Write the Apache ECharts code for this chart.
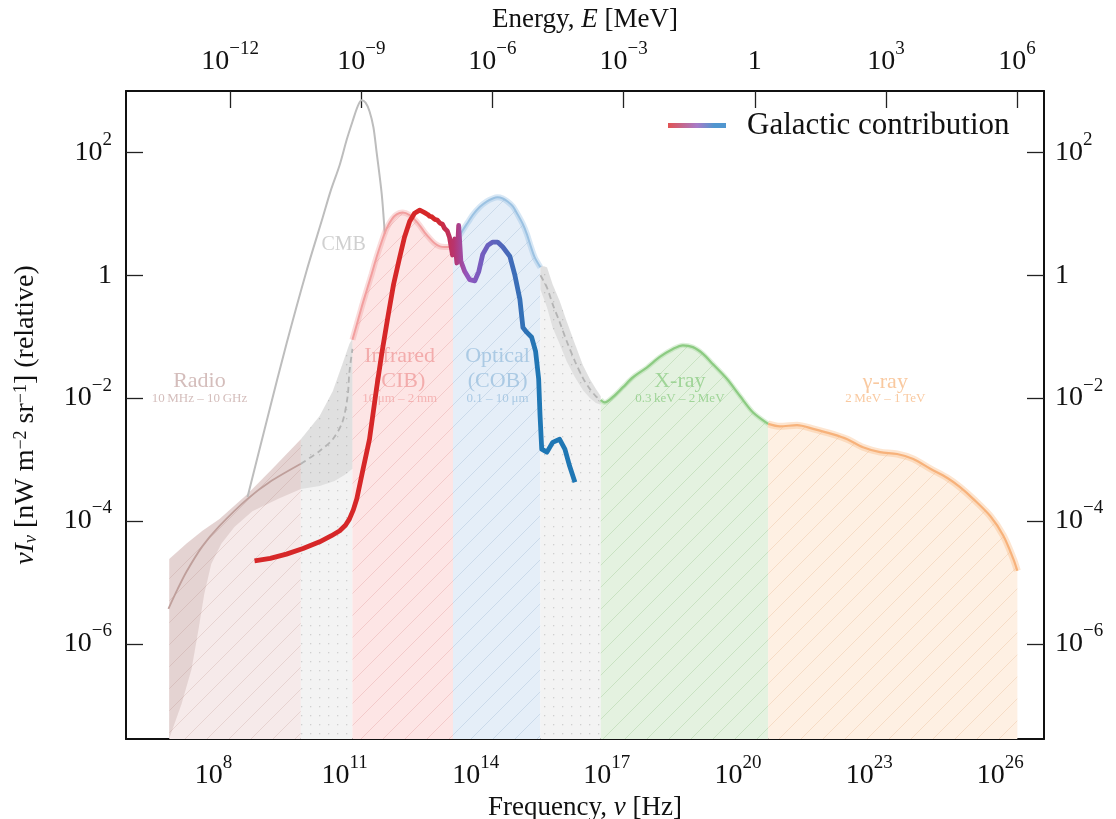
<!DOCTYPE html>
<html><head><meta charset="utf-8">
<script src="https://cdn.jsdelivr.net/npm/echarts@6/dist/echarts.min.js"></script>
<style>html,body{margin:0;padding:0;background:#fff}#c{width:1116px;height:819px}</style>
</head><body><div id="c"></div>
<script>
// ---------- data (log10 frequency [Hz], log10 nu*I_nu) ----------
const freqTicks = [8, 11, 14, 17, 20, 23, 26];
const energyTicks = [-12, -9, -6, -3, 0, 3, 6];
const intensityTicks = [2, 0, -2, -4, -6];

const cmbCurve = [[8.78,-3.61],[9.24,-2.31],[9.67,-1.12],[10.13,0.07],[10.50,0.94],[10.68,1.37],[10.89,1.80],[11.05,2.21],[11.18,2.50],[11.30,2.75],[11.39,2.85],[11.48,2.81],[11.57,2.67],[11.66,2.41],[11.73,2.02],[11.85,1.32],[11.92,0.67]];

const radioUpper = [[6.99,-4.62],[7.38,-4.37],[7.75,-4.16],[8.14,-3.97],[8.78,-3.56],[9.35,-3.15],[10.0,-2.67]];
const radioLower = [[6.985,-7.55],[7.27,-6.98],[7.50,-6.41],[7.66,-5.76],[7.79,-5.19],[7.95,-4.70],[8.18,-4.37],[8.48,-4.10],[8.89,-3.84],[9.51,-3.63],[10.0,-3.48]];
const radioMid = [[6.97,-5.43],[7.18,-5.11],[7.38,-4.83],[7.75,-4.41],[8.14,-4.08],[8.78,-3.64],[9.28,-3.37],[10.0,-3.07]];

const gap1Upper = [[10.0,-2.67],[10.43,-2.29],[10.73,-1.89],[10.95,-1.45],[11.11,-1.12],[11.18,-1.03]];
const gap1Lower = [[10.0,-3.48],[10.43,-3.43],[10.77,-3.35],[11.0,-3.25],[11.18,-3.15]];
const gap1Mid = [[10.0,-3.07],[10.43,-2.86],[10.73,-2.67],[10.95,-2.39],[11.07,-1.97],[11.11,-1.58],[11.18,-1.20]];

const irCurve = [[11.18,-1.05],[11.28,-0.80],[11.39,-0.52],[11.50,-0.26],[11.62,0.02],[11.73,0.29],[11.85,0.55],[11.96,0.76],[12.08,0.91],[12.19,0.99],[12.33,1.02],[12.49,0.98],[12.60,0.91],[12.72,0.81],[12.83,0.70],[12.95,0.60],[13.06,0.52],[13.18,0.47],[13.29,0.46],[13.40,0.46],[13.48,0.47]];

const optCurve = [[13.48,0.49],[13.59,0.60],[13.70,0.73],[13.82,0.86],[13.93,0.98],[14.09,1.11],[14.25,1.20],[14.39,1.25],[14.50,1.27],[14.62,1.25],[14.73,1.20],[14.85,1.12],[14.96,0.99],[15.08,0.83],[15.17,0.67],[15.26,0.47],[15.35,0.29],[15.48,0.13]];

const gap2Upper = [[15.48,0.16],[15.63,0.13],[15.76,-0.15],[15.92,-0.42],[16.08,-0.75],[16.27,-1.12],[16.45,-1.46],[16.61,-1.69],[16.75,-1.85],[16.86,-1.97]];
const gap2Lower = [[15.48,-0.23],[15.63,-0.52],[15.76,-0.85],[15.92,-1.12],[16.08,-1.40],[16.27,-1.66],[16.45,-1.87],[16.61,-2.00],[16.75,-2.08],[16.86,-2.11]];
const gap2Mid = [[15.48,0.0],[15.63,-0.20],[15.76,-0.47],[15.92,-0.76],[16.08,-1.07],[16.27,-1.40],[16.45,-1.67],[16.61,-1.85],[16.75,-1.97],[16.86,-2.03]];

const xrayCurve = [[16.86,-2.03],[16.95,-2.07],[17.14,-1.98],[17.37,-1.82],[17.60,-1.66],[17.92,-1.50],[18.21,-1.33],[18.51,-1.20],[18.74,-1.14],[18.97,-1.17],[19.20,-1.28],[19.43,-1.45],[19.75,-1.69],[20.05,-1.97],[20.34,-2.23],[20.69,-2.42]];

const gammaCurve = [[20.69,-2.42],[20.96,-2.46],[21.35,-2.44],[21.72,-2.50],[22.18,-2.59],[22.50,-2.67],[22.86,-2.80],[23.25,-2.88],[23.64,-2.91],[24.01,-2.99],[24.40,-3.15],[24.79,-3.30],[25.08,-3.45],[25.38,-3.64],[25.77,-3.92],[26.07,-4.24],[26.30,-4.62],[26.39,-4.81]];

const galactic = [[8.94,-4.65],[9.30,-4.61],[9.67,-4.54],[10.05,-4.45],[10.43,-4.34],[10.70,-4.24],[10.89,-4.16],[11.02,-4.07],[11.11,-3.97],[11.20,-3.82],[11.28,-3.64],[11.41,-3.20],[11.57,-2.67],[11.73,-1.85],[11.85,-1.28],[11.99,-0.68],[12.12,-0.15],[12.26,0.29],[12.37,0.62],[12.49,0.88],[12.60,1.01],[12.72,1.06],[12.83,1.02],[12.90,0.99],[12.95,0.96],[13.00,0.95],[13.06,0.91],[13.12,0.90],[13.18,0.85],[13.24,0.83],[13.29,0.76],[13.35,0.72],[13.40,0.62],[13.47,0.33],[13.52,0.59],[13.57,0.20],[13.61,0.81],[13.66,0.23],[13.75,0.06],[13.86,-0.07],[13.98,-0.09],[14.07,0.06],[14.16,0.34],[14.28,0.49],[14.39,0.54],[14.50,0.54],[14.62,0.46],[14.78,0.31],[14.89,0.02],[15.01,-0.39],[15.08,-0.85],[15.17,-0.93],[15.28,-1.01],[15.37,-1.24],[15.44,-1.69],[15.47,-2.26],[15.51,-2.83],[15.63,-2.88],[15.76,-2.72],[15.92,-2.67],[16.04,-2.83],[16.15,-3.11],[16.27,-3.37]];

const annotations = [
  {text:'CMB', at:[10.98, 0.50], kind:'cmb'},
  {text:'Radio', at:[7.68, -1.72], kind:'radio'},
  {text:'10\u2009MHz \u2013 10\u2009GHz', at:[7.68, -2.00], kind:'radioS'},
  {text:'Infrared', at:[12.26, -1.32], kind:'ir'},
  {text:'(CIB)', at:[12.26, -1.72], kind:'ir'},
  {text:'10\u2009\u03bcm \u2013 2\u2009mm', at:[12.26, -2.00], kind:'irS'},
  {text:'Optical', at:[14.50, -1.32], kind:'opt'},
  {text:'(COB)', at:[14.50, -1.72], kind:'opt'},
  {text:'0.1 \u2013 10\u2009\u03bcm', at:[14.50, -2.00], kind:'optS'},
  {text:'X-ray', at:[18.67, -1.72], kind:'x'},
  {text:'0.3\u2009keV \u2013 2\u2009MeV', at:[18.67, -2.00], kind:'xS'},
  {text:'\u03b3-ray', at:[23.37, -1.74], kind:'g'},
  {text:'2\u2009MeV \u2013 1\u2009TeV', at:[23.37, -2.00], kind:'gS'}
];

// ---------- styling ----------
const F = "'Liberation Serif','DejaVu Serif',serif";
const X_MIN = 6.0, X_MAX = 27.0, Y_MIN = -7.55, Y_MAX = 3.0;
const E_SHIFT = -20.3835; // log10(h) in MeV s

function hatch(bg, line) {
  const s = 22, c = document.createElement('canvas'); c.width = s; c.height = s;
  const g = c.getContext('2d'); g.fillStyle = bg; g.fillRect(0, 0, s, s);
  g.strokeStyle = line; g.lineWidth = 1;
  g.beginPath();
  g.moveTo(0, s); g.lineTo(s, 0);
  g.moveTo(-s/2, s/2); g.lineTo(s/2, -s/2);
  g.moveTo(s/2, s*1.5); g.lineTo(s*1.5, s/2);
  g.stroke();
  return {image: c, repeat: 'repeat'};
}
function dots(bg, dot) {
  const s = 9, c = document.createElement('canvas'); c.width = s; c.height = s;
  const g = c.getContext('2d'); g.fillStyle = bg; g.fillRect(0, 0, s, s);
  g.fillStyle = dot; g.fillRect(4, 4, 1.3, 1.3);
  return {image: c, repeat: 'repeat'};
}
const annoStyle = {
  cmb:{color:'#c4c4c4', size:20}, radio:{color:'#c9adaa', size:22}, radioS:{color:'#c9adaa', size:13},
  ir:{color:'#f09d9d', size:22}, irS:{color:'#f2a8a8', size:13},
  opt:{color:'#9cc0de', size:22}, optS:{color:'#9cc0de', size:13},
  x:{color:'#8fcd86', size:22}, xS:{color:'#8fcd86', size:13},
  g:{color:'#f7bb88', size:22}, gS:{color:'#f7bb88', size:13}
};

function polygon(name, pts, fill, z) {
  return {
    type:'custom', name, z, silent:true, clip:true,
    data:[pts[0]],
    renderItem: function (params, api) {
      return {type:'polygon', shape:{points: pts.map(p => api.coord(p))}, style:{fill}};
    }
  };
}
const toBottom = c => c.concat([[c[c.length-1][0], Y_MIN], [c[0][0], Y_MIN]]);
const between = (u, l) => u.concat(l.slice().reverse());
function line(name, data, color, width, z, extra) {
  return Object.assign({type:'line', name, data, showSymbol:false, symbol:'none', silent:true,
    smooth:0.3, z, lineStyle:{color, width}}, extra || {});
}

const galGrad = new echarts.graphic.LinearGradient(0, 0, 1, 0, [
  {offset:0, color:'#d62728'}, {offset:0.56, color:'#d62728'}, {offset:0.62, color:'#b8346e'},
  {offset:0.66, color:'#9356bd'}, {offset:0.72, color:'#6c5fbf'}, {offset:0.80, color:'#3f6cb8'},
  {offset:0.88, color:'#1f77b4'}, {offset:1, color:'#1f77b4'}]);
const legGrad = new echarts.graphic.LinearGradient(0, 0, 1, 0, [
  {offset:0, color:'#e25353'}, {offset:0.5, color:'#a77bc8'}, {offset:0.8, color:'#5096cf'}, {offset:1, color:'#5096cf'}]);

const richAxis = {
  b:{fontFamily:F, fontSize:28, lineHeight:44, color:'#111'},
  s:{fontFamily:F, fontSize:19, lineHeight:19, verticalAlign:'top', color:'#111'}
};
const powLabel = v => Math.abs(v) < 1e-9 ? '{b|1}' : '{b|10}{s|' + (v < 0 ? '\u2212' : '') + Math.abs(Math.round(v)) + '}';
const axisLineS = {show:true, onZero:false, lineStyle:{color:'#111', width:2}};
const tickS = (vals, color) => ({show:true, inside:true, length:17, customValues:vals, lineStyle:{color:color || '#222', width:1.3}});
const mkName = size => ({fontFamily:F, fontSize:size, color:'#111',
  rich:{i:{fontFamily:F, fontSize:size, fontStyle:'italic', color:'#111'},
        sub:{fontFamily:F, fontSize:18, fontStyle:'italic', verticalAlign:'bottom', lineHeight:24, color:'#111'},
        sup:{fontFamily:F, fontSize:18, verticalAlign:'top', lineHeight:18, color:'#111'}}});

const series = [
  polygon('radioFill', toBottom(radioUpper), hatch('#f6eaea', '#e7d3d1'), 1),
  polygon('gap1Fill', toBottom(gap1Upper), dots('#f3f3f3', '#cfcfcf'), 1),
  polygon('irFill', toBottom(irCurve), hatch('#fde5e5', '#f3caca'), 1),
  polygon('optFill', toBottom(optCurve), hatch('#e5eef8', '#cbdaea'), 1),
  polygon('gap2Fill', toBottom(gap2Upper), dots('#f3f3f3', '#cfcfcf'), 1),
  polygon('xrayFill', toBottom(xrayCurve), hatch('#e4f2e0', '#c9e2c2'), 1),
  polygon('gammaFill', toBottom(gammaCurve), hatch('#fef0e3', '#f6dcc6'), 1),
  polygon('radioBand', between(radioUpper, radioLower), 'rgba(160,120,115,0.2)', 2),
  polygon('gap1Band', between(gap1Upper, gap1Lower), 'rgba(150,150,150,0.2)', 2),
  polygon('gap2Band', between(gap2Upper, gap2Lower), 'rgba(150,150,150,0.2)', 2),
  line('CMB', cmbCurve, '#bdbdbd', 2, 3),
  line('radioMid', radioMid, '#bf9f9b', 1.8, 4),
  line('gap1Mid', gap1Mid, '#b4b4b4', 1.8, 4, {lineStyle:{color:'#b4b4b4', width:1.8, type:[6, 4]}}),
  line('gap2Mid', gap2Mid, '#b4b4b4', 1.8, 4, {lineStyle:{color:'#b4b4b4', width:1.8, type:[6, 4]}}),
  line('irBand', irCurve, 'rgba(240,140,140,0.3)', 6, 4),
  line('ir', irCurve, '#f29f9f', 2, 4),
  line('optBand', optCurve, 'rgba(140,185,225,0.35)', 6, 4),
  line('opt', optCurve, '#9cc2e2', 2, 4),
  line('xrayBand', xrayCurve, 'rgba(140,205,130,0.3)', 5, 4),
  line('xray', xrayCurve, '#8ccb82', 2.2, 4),
  line('gammaBand', gammaCurve, 'rgba(248,180,120,0.35)', 7, 4),
  line('gamma', gammaCurve, '#f7b27b', 2.2, 4),
  {type:'scatter', name:'labels', z:5, silent:true, symbolSize:0,
   data: annotations.map(a => ({value:a.at, name:a.text,
     label:{show:true, position:'inside', formatter:'{b}', fontFamily:F,
            color:annoStyle[a.kind].color, fontSize:annoStyle[a.kind].size}}))},
  {type:'line', name:'Galactic contribution', data:galactic, showSymbol:false, symbol:'none', z:6, silent:true,
   smooth:false, lineStyle:{color:galGrad, width:4.8, join:'round'}, itemStyle:{color:'#d62728'}}
];

const option = {
  animation:false,
  backgroundColor:'#fff',
  grid:{left:126, right:72, top:91, bottom:80, containLabel:false, outerBoundsMode:'none'},
  legend:{left:668, top:110, padding:0, icon:'rect', itemWidth:58, itemHeight:5, selectedMode:false,
    textStyle:{fontFamily:F, fontSize:31, color:'#111', padding:[0, 0, 0, 16]},
    data:[{name:'Galactic contribution', itemStyle:{color:legGrad}}]},
  xAxis:[
    {type:'value', position:'bottom', min:X_MIN, max:X_MAX,
     name:'Frequency, {i|\u03bd} [Hz]', nameLocation:'middle', nameGap:49, nameTextStyle:mkName(27),
     axisLine:axisLineS, axisTick:tickS(freqTicks, '#777'),
     axisLabel:{customValues:freqTicks, formatter:powLabel, margin:15, rich:richAxis}, splitLine:{show:false}},
    {type:'value', position:'top', min:X_MIN + E_SHIFT, max:X_MAX + E_SHIFT,
     name:'Energy, {i|E} [MeV]', nameLocation:'middle', nameGap:58, nameTextStyle:mkName(27),
     axisLine:axisLineS, axisTick:tickS(energyTicks),
     axisLabel:{customValues:energyTicks, formatter:powLabel, margin:7, rich:richAxis}, splitLine:{show:false}}
  ],
  yAxis:[
    {type:'value', position:'left', min:Y_MIN, max:Y_MAX,
     name:'{i|\u03bdI}{sub|\u03bd} [nW m{sup|\u22122} sr{sup|\u22121}] (relative)', nameLocation:'middle', nameGap:86, nameRotate:90,
     nameTextStyle:mkName(28),
     axisLine:axisLineS, axisTick:tickS(intensityTicks),
     axisLabel:{customValues:intensityTicks, formatter:powLabel, margin:14, rich:richAxis}, splitLine:{show:false}},
    {type:'value', position:'right', min:Y_MIN, max:Y_MAX,
     axisLine:axisLineS, axisTick:tickS(intensityTicks),
     axisLabel:{customValues:intensityTicks, formatter:powLabel, margin:11, rich:richAxis}, splitLine:{show:false}}
  ],
  series
};
const chart = echarts.init(document.getElementById('c'));
chart.setOption(option);
</script></body></html>
